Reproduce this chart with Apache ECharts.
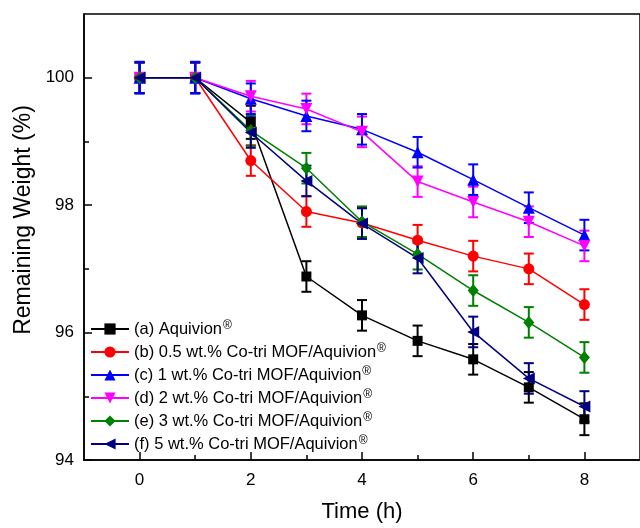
<!DOCTYPE html>
<html>
<head>
<meta charset="utf-8">
<script src="https://cdn.jsdelivr.net/npm/echarts@6/dist/echarts.min.js"></script>
<style>html,body{margin:0;padding:0;background:#fff}#c{width:640px;height:528px}</style>
</head>
<body>
<div id="c"></div>
<script>
const xValues = [0, 1, 2, 3, 4, 5, 6, 7, 8];
const seriesNames = ['a', 'b', 'c', 'd', 'e', 'f'];
const legendLabels = [
  '(a) Aquivion',
  '(b) 0.5 wt.% Co-tri MOF/Aquivion',
  '(c) 1 wt.% Co-tri MOF/Aquivion',
  '(d) 2 wt.% Co-tri MOF/Aquivion',
  '(e) 3 wt.% Co-tri MOF/Aquivion',
  '(f) 5 wt.% Co-tri MOF/Aquivion'
];
const valuesA = [100, 100, 99.30, 96.88, 96.27, 95.87, 95.58, 95.14, 94.64];
const valuesB = [100, 100, 98.70, 97.90, 97.72, 97.45, 97.20, 97.00, 96.44];
const valuesC = [100, 100, 99.67, 99.40, 99.19, 98.83, 98.40, 97.96, 97.53];
const valuesD = [100, 100, 99.71, 99.51, 99.15, 98.37, 98.05, 97.74, 97.36];
const valuesE = [100, 100, 99.17, 98.58, 97.74, 97.23, 96.66, 96.16, 95.61];
const valuesF = [100, 100, 99.14, 98.38, 97.71, 97.17, 96.01, 95.28, 94.84];
const errA = [0.24, 0.24, 0.26, 0.24, 0.24, 0.24, 0.24, 0.24, 0.25];
const errB = [0.24, 0.24, 0.24, 0.24, 0.24, 0.24, 0.24, 0.24, 0.24];
const errC = [0.25, 0.25, 0.24, 0.24, 0.24, 0.24, 0.24, 0.24, 0.24];
const errD = [0.24, 0.24, 0.24, 0.24, 0.24, 0.24, 0.24, 0.24, 0.24];
const errE = [0.24, 0.24, 0.24, 0.24, 0.24, 0.24, 0.24, 0.24, 0.24];
const errF = [0.24, 0.24, 0.24, 0.24, 0.24, 0.24, 0.24, 0.24, 0.24];
const xMajorTicks = [0, 2, 4, 6, 8];
const xMinorTicks = [1, 3, 5, 7];
const yMajorTicks = [94, 96, 98, 100];
const yMinorTicks = [95, 97, 99];

const allValues = [valuesA, valuesB, valuesC, valuesD, valuesE, valuesF];
const allErr = [errA, errB, errC, errD, errE, errF];
const colors = ['#000000', '#ff0000', '#0000ff', '#ff00ff', '#008000', '#000080'];
const symbols = ['rect', 'circle', 'triangle', 'triangle', 'diamond', 'triangle'];
const symbolRot = [0, 0, 0, 180, 0, 90];
const symbolSizes = [10, 11, 12, 12, [11, 13], 12];

const FONT = '"Liberation Sans", Arial, sans-serif';
const chart = echarts.init(document.getElementById('c'), null, {renderer: 'canvas'});

function makeRender(color) {
  return function (params, api) {
    const x = api.value(0), lo = api.value(1), hi = api.value(2);
    const t = api.coord([x, hi]);
    const b = api.coord([x, lo]);
    const hw = 5;
    const style = {stroke: color, lineWidth: 2, fill: null};
    return {
      type: 'group',
      children: [
        {type: 'line', shape: {x1: t[0], y1: t[1], x2: b[0], y2: b[1]}, style: style},
        {type: 'line', shape: {x1: t[0] - hw, y1: t[1], x2: t[0] + hw, y2: t[1]}, style: style},
        {type: 'line', shape: {x1: b[0] - hw, y1: b[1], x2: b[0] + hw, y2: b[1]}, style: style}
      ]
    };
  };
}

const series = [];
allValues.forEach(function (vals, i) {
  series.push({
    name: 'err-' + seriesNames[i],
    type: 'custom',
    xAxisIndex: 0, yAxisIndex: 0,
    renderItem: makeRender(colors[i]),
    encode: {x: 0, y: [1, 2]},
    data: xValues.map(function (x, k) { return [x, vals[k] - allErr[i][k], vals[k] + allErr[i][k]]; }),
    z: i === 2 ? 4 : 3,
    silent: true
  });
});
allValues.forEach(function (vals, i) {
  series.push({
    name: seriesNames[i],
    type: 'line',
    xAxisIndex: 0, yAxisIndex: 0,
    data: xValues.map(function (x, k) { return [x, vals[k]]; }),
    symbol: symbols[i],
    symbolRotate: symbolRot[i],
    symbolSize: symbolSizes[i],
    showSymbol: true,
    color: colors[i],
    itemStyle: {color: colors[i], opacity: 1},
    lineStyle: {color: colors[i], width: 1.5},
    z: 5
  });
});

const option = {
  animation: false,
  backgroundColor: '#ffffff',
  grid: {left: 84, top: 14, right: -3, bottom: 64, show: true, borderColor: '#000', borderWidth: 1.5, backgroundColor: 'transparent'},
  legend: {
    data: seriesNames,
    orient: 'vertical',
    left: 90,
    top: 320,
    padding: 0,
    itemWidth: 38,
    itemHeight: 14,
    itemGap: 5,
    symbolRotate: 'inherit',
    formatter: function (name) {
      return '{t|' + legendLabels[seriesNames.indexOf(name)] + '}{s|®}';
    },
    textStyle: {
      color: '#000',
      fontFamily: FONT,
      fontSize: 16.5,
      rich: {
        t: {fontSize: 16.5, fontFamily: FONT, color: '#000', lineHeight: 18},
        s: {fontSize: 12, fontFamily: FONT, color: '#000', verticalAlign: 'top', lineHeight: 18, padding: [0, 0, 6, 1]}
      }
    }
  },
  xAxis: [
    {
      type: 'value', min: -1, max: 9, gridIndex: 0, position: 'bottom',
      name: 'Time (h)', nameLocation: 'middle', nameGap: 41,
      nameTextStyle: {fontFamily: FONT, fontSize: 22, color: '#000'},
      axisLine: {show: true, onZero: false, lineStyle: {color: '#000', width: 1.5}},
      axisTick: {show: true, inside: true, length: 8, customValues: xMajorTicks, lineStyle: {color: '#000', width: 1.5}},
      axisLabel: {show: true, customValues: xMajorTicks, margin: 12, fontFamily: FONT, fontSize: 17, color: '#000'},
      splitLine: {show: false}
    },
    {
      type: 'value', min: -1, max: 9, gridIndex: 0, position: 'bottom',
      axisLine: {show: false, onZero: false},
      axisTick: {show: true, inside: true, length: 5, customValues: xMinorTicks, lineStyle: {color: '#000', width: 1.5}},
      axisLabel: {show: false},
      splitLine: {show: false}
    }
  ],
  yAxis: [
    {
      type: 'value', min: 94, max: 101, gridIndex: 0, position: 'left',
      name: 'Remaining Weight (%)', nameLocation: 'middle', nameGap: 49,
      nameTextStyle: {fontFamily: FONT, fontSize: 23, color: '#000', padding: [0, 0, 0, 34]},
      axisLine: {show: true, onZero: false, lineStyle: {color: '#000', width: 1.5}},
      axisTick: {show: true, inside: true, length: 8, customValues: yMajorTicks, lineStyle: {color: '#000', width: 1.5}},
      axisLabel: {show: true, customValues: yMajorTicks, margin: 10, fontFamily: FONT, fontSize: 17, color: '#000'},
      splitLine: {show: false}
    },
    {
      type: 'value', min: 94, max: 101, gridIndex: 0, position: 'left',
      axisLine: {show: false, onZero: false},
      axisTick: {show: true, inside: true, length: 5, customValues: yMinorTicks, lineStyle: {color: '#000', width: 1.5}},
      axisLabel: {show: false},
      splitLine: {show: false}
    }
  ],
  series: series
};
chart.setOption(option);
</script>
</body>
</html>
